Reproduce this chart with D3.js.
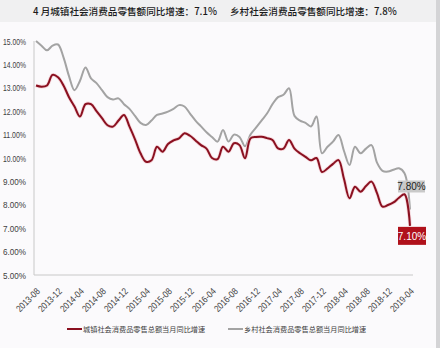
<!DOCTYPE html>
<html>
<head>
<meta charset="utf-8">
<script src="https://cdn.jsdelivr.net/npm/d3@7"></script>
<style>
  body { margin: 0; background: #fbfafc; }
  svg { display: block; }
</style>
</head>
<body>
<script>
// monthly, 2013-08 .. 2019-04
const months = d3.timeMonth.range(new Date(2013, 7, 1), new Date(2019, 4, 1)).map(d3.timeFormat("%Y-%m"));
const tickLabels = ["2013-08", "2013-12", "2014-04", "2014-08", "2014-12", "2015-04", "2015-08", "2015-12", "2016-04",
  "2016-08", "2016-12", "2017-04", "2017-08", "2017-12", "2018-04", "2018-08", "2018-12", "2019-04"];
const yTicks = [5, 6, 7, 8, 9, 10, 11, 12, 13, 14, 15];

const urban = [13.1, 13.05, 13.1, 13.55, 13.45, 13.1, 12.6, 12.2, 11.77, 12.3,
  12.3, 12.0, 11.7, 11.4, 11.34, 11.6, 11.84, 11.34, 10.8, 10.2,
  9.84, 9.9, 10.48, 10.27, 10.6, 10.75, 10.84, 11.06, 10.95, 10.75,
  10.55, 10.4, 10.0, 9.95, 10.48, 10.27, 10.63, 10.55, 9.99, 10.84,
  10.9, 10.91, 10.85, 10.77, 10.41, 10.4, 10.77, 10.4, 10.2, 10.05,
  9.9, 10.0, 9.4, 9.55, 9.75, 9.91, 9.1, 8.28, 8.77, 8.56,
  8.8, 8.99, 8.5, 7.92, 7.99, 8.1, 8.3, 8.45, 7.1];
const rural = [15.0, 14.8, 14.6, 14.8, 14.85, 14.3, 13.5, 12.9, 13.3, 13.87,
  13.4, 13.2, 12.9, 12.6, 12.5, 12.55, 12.3, 12.1, 11.8, 11.5,
  11.41, 11.6, 11.84, 11.9, 11.98, 12.1, 12.26, 12.2, 11.9, 11.6,
  11.35, 11.1, 10.9, 10.7, 11.2, 10.7, 11.0, 10.9, 10.5, 11.0,
  11.3, 11.6, 11.9, 12.3, 12.6, 12.7, 12.98, 11.8, 11.6, 11.5,
  11.35, 11.77, 10.2, 10.48, 10.7, 10.98, 10.3, 9.7, 10.48, 10.2,
  10.4, 10.55, 9.8, 9.45, 9.42, 9.5, 9.56, 9.35, 7.8];

const title1 = "4 月城镇社会消费品零售额同比增速：7.1%";
const title2 = "乡村社会消费品零售额同比增速：7.8%";
const legendNames = ["城镇社会消费品零售总额当月同比增速", "乡村社会消费品零售总额当月同比增速"];

const W = 440, H = 348;
const red = "#8a1020", grey = "#a3a3a3";
const font = "'Liberation Sans Narrow', 'Liberation Sans', sans-serif";
const cjk = "'Noto Sans CJK SC', sans-serif";

const svg = d3.select("body").append("svg").attr("width", W).attr("height", H);

// title band + right edge
svg.append("rect").attr("width", W).attr("height", 22).attr("fill", "#f0f0f1");
svg.append("rect").attr("x", 436).attr("width", 4).attr("height", H).attr("fill", "#d4d4d6");

svg.append("text").attr("x", 33).attr("y", 15).attr("font-family", cjk).attr("font-size", 9.6)
  .attr("font-weight", 500).attr("fill", "#1a1a1a").text(title1);
svg.append("text").attr("x", 230).attr("y", 15).attr("font-family", cjk).attr("font-size", 9.6)
  .attr("font-weight", 500).attr("fill", "#1a1a1a").text(title2);

const x = d3.scalePoint().domain(months).range([36, 410]);
const y = d3.scaleLinear().domain([5, 15]).range([275, 41]);

// axes
svg.append("line").attr("x1", 34).attr("x2", 34).attr("y1", 41).attr("y2", 275).attr("stroke", "#c8c8c8");
svg.append("line").attr("x1", 34).attr("x2", 413).attr("y1", 275).attr("y2", 275).attr("stroke", "#c8c8c8");

const yAxis = svg.append("g").attr("transform", "translate(34,0)")
  .call(d3.axisLeft(y).tickValues(yTicks).tickSize(0).tickPadding(8).tickFormat(d => d.toFixed(2) + "%"));
yAxis.select(".domain").remove();
yAxis.selectAll("text").attr("font-family", font).attr("font-size", 9.5).attr("fill", "#404040")
  .attr("textLength", 23).attr("lengthAdjust", "spacingAndGlyphs");

const xAxis = svg.append("g").attr("transform", "translate(0,275)")
  .call(d3.axisBottom(x).tickValues(tickLabels).tickSize(0).tickPadding(0));
xAxis.select(".domain").remove();
xAxis.selectAll("text")
  .attr("font-family", font).attr("font-size", 9.5).attr("fill", "#404040")
  .attr("text-anchor", "end")
  .attr("dy", 0)
  .attr("textLength", 29).attr("lengthAdjust", "spacingAndGlyphs")
  .attr("transform", "translate(4,17) rotate(-45)");

// lines
const line = (vals) => d3.line()
  .x((d, i) => x(months[i]))
  .y(d => y(d))
  .curve(d3.curveCatmullRom.alpha(0.5))(vals);

svg.append("path").attr("d", line(rural)).attr("fill", "none").attr("stroke", grey).attr("stroke-width", 2);
svg.append("path").attr("d", line(urban)).attr("fill", "none").attr("stroke", "#f3c9cf").attr("stroke-width", 3.6).attr("opacity", 0.7);
svg.append("path").attr("d", line(urban)).attr("fill", "none").attr("stroke", red).attr("stroke-width", 2);

// end labels
const last = months.length - 1;
const lx = x(months[last]);
const g1 = svg.append("g");
g1.append("rect").attr("x", lx - 12).attr("y", y(rural[last]) - 29).attr("width", 27).attr("height", 12).attr("fill", "#c9c9c9");
g1.append("text").attr("x", lx + 1.5).attr("y", y(rural[last]) - 19.5).attr("text-anchor", "middle")
  .attr("font-family", font).attr("font-size", 10).attr("fill", "#222").text(rural[last].toFixed(2) + "%");
const g2 = svg.append("g");
g2.append("rect").attr("x", lx - 12).attr("y", y(urban[last]) + 1).attr("width", 28).attr("height", 18).attr("fill", "#b0111b");
g2.append("text").attr("x", lx + 2).attr("y", y(urban[last]) + 14).attr("text-anchor", "middle")
  .attr("font-family", font).attr("font-size", 10).attr("fill", "#fff").text(urban[last].toFixed(2) + "%");

// legend
const legend = svg.append("g").attr("transform", "translate(0,329)");
[[67, red, legendNames[0]], [228, grey, legendNames[1]]].forEach(([lx0, c, name]) => {
  legend.append("line").attr("x1", lx0).attr("x2", lx0 + 15).attr("y1", 0).attr("y2", 0)
    .attr("stroke", c).attr("stroke-width", 2);
  legend.append("text").attr("x", lx0 + 16).attr("y", 2.6).attr("font-family", cjk).attr("font-size", 7.2)
    .attr("fill", "#404040").text(name);
});
</script>
</body>
</html>
